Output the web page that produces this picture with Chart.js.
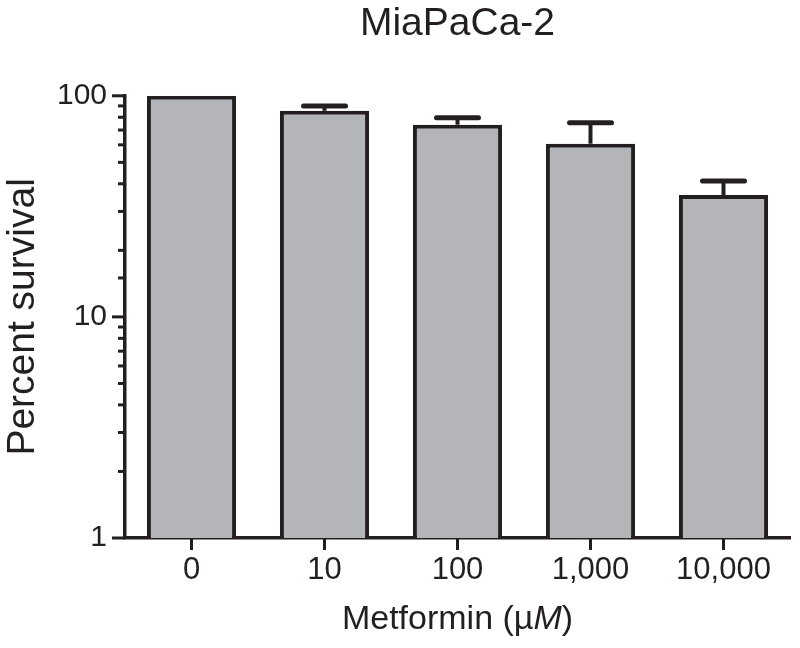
<!DOCTYPE html>
<html>
<head>
<meta charset="utf-8">
<script src="https://cdn.jsdelivr.net/npm/chart.js@4/dist/chart.umd.min.js"></script>
<style>
  html, body { margin: 0; padding: 0; background: #fff; }
  #wrap { width: 800px; height: 648px; }
</style>
</head>
<body>
<div id="wrap"><canvas id="graph" width="800" height="648"></canvas></div>
<script>
// data
const doses = ["0", "10", "100", "1,000", "10,000"];
const survival = [100, 85.5, 74, 60.7, 35.6];
const survivalUpper = [100, 90, 79.5, 75.5, 41.2];
const yTickLabels = [1, 10, 100];

const ink = "#231f20";
const font = "'Liberation Sans', Arial, sans-serif";

// error bars on top of each bar
const errorBars = {
    id: 'errorBars',
    afterDatasetsDraw(chart) {
        var ctx = chart.ctx;
        var y = chart.scales.y;
        var meta = chart.getDatasetMeta(0);
        ctx.save();
        ctx.strokeStyle = ink;
        meta.data.forEach((bar, i) => {
            if (survivalUpper[i] <= survival[i]) return;
            var top = y.getPixelForValue(survivalUpper[i]);
            var base = y.getPixelForValue(survival[i]);
            ctx.lineWidth = 4;
            ctx.lineCap = 'butt';
            ctx.beginPath();
            ctx.moveTo(bar.x, base);
            ctx.lineTo(bar.x, top);
            ctx.stroke();
            ctx.lineWidth = 5;
            ctx.lineCap = 'round';
            ctx.beginPath();
            ctx.moveTo(bar.x - 21, top);
            ctx.lineTo(bar.x + 21, top);
            ctx.stroke();
        });
        ctx.restore();
    }
};

// tick marks (major / minor) and the x axis title with italic M
const axisMarks = {
    id: 'axisMarks',
    afterDraw(chart) {
        var ctx = chart.ctx;
        var y = chart.scales.y;
        var x = chart.scales.x;
        var area = chart.chartArea;
        ctx.save();
        ctx.strokeStyle = ink;
        ctx.lineWidth = 3;
        y.ticks.forEach(t => {
            var py = y.getPixelForValue(t.value);
            var major = yTickLabels.indexOf(t.value) >= 0;
            ctx.beginPath();
            ctx.moveTo(area.left, py);
            ctx.lineTo(area.left - (major ? 13 : 7), py);
            ctx.stroke();
        });
        doses.forEach((d, i) => {
            var px = x.getPixelForValue(i);
            ctx.beginPath();
            ctx.moveTo(px, area.bottom);
            ctx.lineTo(px, area.bottom + 12);
            ctx.stroke();
        });

        // x title
        var parts = [["Metformin (µ", "normal"], ["M", "italic"], [")", "normal"]];
        var total = 0;
        parts.forEach(p => {
            ctx.font = p[1] + " 34px " + font;
            total += ctx.measureText(p[0]).width;
        });
        var cx = (area.left + area.right) / 2 - total / 2;
        ctx.fillStyle = ink;
        ctx.textBaseline = 'alphabetic';
        ctx.textAlign = 'left';
        parts.forEach(p => {
            ctx.font = p[1] + " 34px " + font;
            ctx.fillText(p[0], cx, 629);
            cx += ctx.measureText(p[0]).width;
        });
        ctx.restore();
    }
};

chart = new Chart("graph", {
    type: "bar",
    data: {
        labels: doses,
        datasets: [{
            label: 'Percent survival',
            data: survival,
            backgroundColor: "#b4b5b8",
            borderColor: ink,
            borderWidth: 4,
            borderSkipped: 'start',
            barPercentage: 0.67,
            categoryPercentage: 1
        }]
    },
    options: {
        responsive: false,
        animation: false,
        layout: { padding: { left: 0, right: 10, top: 0, bottom: 0 } },
        plugins: {
            legend: { display: false },
            tooltip: { enabled: false },
            title: {
                display: true,
                text: 'MiaPaCa-2',
                fullSize: false,
                color: ink,
                font: { family: font, size: 39, weight: 'normal' },
                padding: { top: 1, bottom: 48 }
            }
        },
        scales: {
            x: {
                grid: { display: false, drawTicks: false },
                border: { color: ink, width: 3.5 },
                ticks: {
                    color: ink,
                    padding: 14,
                    font: { family: font, size: 31 },
                    maxRotation: 0
                },
                afterFit(scale) { scale.height = 110; }
            },
            y: {
                type: 'logarithmic',
                min: 1,
                max: 100,
                grid: { display: false, drawTicks: false },
                border: { color: ink, width: 3.5 },
                ticks: {
                    color: ink,
                    padding: 18,
                    autoSkip: false,
                    font: { family: font, size: 30 },
                    callback: v => yTickLabels.indexOf(v) >= 0 ? String(v) : ''
                },
                title: {
                    display: true,
                    text: 'Percent survival',
                    color: ink,
                    font: { family: font, size: 39 },
                    padding: { top: 0, bottom: 0 }
                },
                afterFit(scale) { scale.width = 125; }
            }
        }
    },
    plugins: [errorBars, axisMarks]
});
</script>
</body>
</html>
